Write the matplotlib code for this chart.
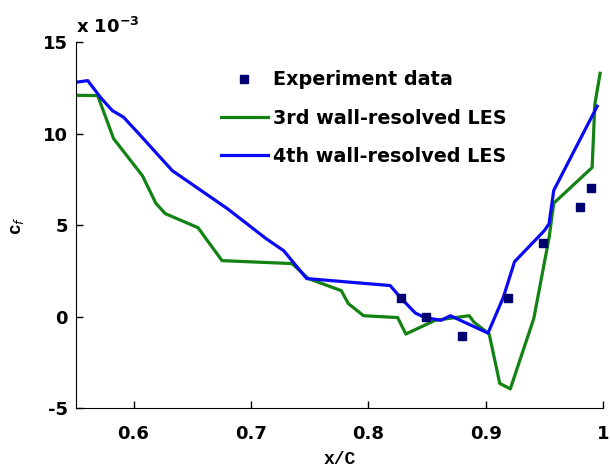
import matplotlib
matplotlib.use("Agg")
import matplotlib.pyplot as plt

# values in units of 1e-3
exp_x = [0.828, 0.849, 0.880, 0.919, 0.949, 0.980, 0.990]
exp_y = [1.0, 0.0, -1.04, 1.0, 4.0, 6.0, 7.05]

les3_x = [0.550, 0.5695, 0.583, 0.6076, 0.619, 0.627, 0.655, 0.663, 0.6754, 0.735,
          0.749, 0.777, 0.783, 0.796, 0.825, 0.832, 0.857, 0.886, 0.890, 0.903,
          0.912, 0.921, 0.941, 0.954, 0.958, 0.9907, 0.993, 0.9975]
les3_y = [12.1, 12.08, 9.73, 7.7, 6.2, 5.63, 4.86, 4.15, 3.06, 2.9,
          2.08, 1.42, 0.71, 0.05, -0.05, -0.95, -0.2, 0.05, -0.3, -0.95,
          -3.65, -3.95, -0.1, 4.3, 6.2, 8.15, 11.6, 13.3]

les4_x = [0.550, 0.561, 0.572, 0.582, 0.5915, 0.6076, 0.633, 0.680, 0.713, 0.728,
          0.7475, 0.8186, 0.828, 0.840, 0.848, 0.862, 0.870, 0.902, 0.915, 0.9246,
          0.950, 0.954, 0.958, 0.995]
les4_y = [12.8, 12.9, 11.97, 11.26, 10.9, 9.78, 7.98, 5.9, 4.26, 3.6,
          2.08, 1.7, 1.0, 0.2, -0.05, -0.2, 0.05, -0.9, 1.05, 3.0,
          4.7, 5.08, 6.9, 11.5]

xticks = [0.6, 0.7, 0.8, 0.9, 1.0]
xticklabels = ['0.6', '0.7', '0.8', '0.9', '1']
yticks = [-5, 0, 5, 10, 15]
yticklabels = ['-5', '0', '5', '10', '15']

fig = plt.figure(figsize=(6.1, 4.74), dpi=100)
ax = fig.add_axes([0.1246, 0.139, 0.864, 0.772])

green = '#128212'
blue = '#0a0af5'
ax.plot(exp_x, exp_y, 's', color='#000070', markersize=5.5, label='Experiment data', zorder=5)
ax.plot(les3_x, les3_y, '-', color=green, lw=2.3, label='3rd wall-resolved LES')
ax.plot(les4_x, les4_y, '-', color=blue, lw=2.3, label='4th wall-resolved LES')

ax.set_xlim(0.551, 1.0)
ax.set_ylim(-5, 15)
ax.set_xticks(xticks)
ax.set_xticklabels(xticklabels)
ax.set_yticks(yticks)
ax.set_yticklabels(yticklabels)
ax.tick_params(direction='in', length=5, labelsize=13, width=1)
for lab in ax.get_xticklabels() + ax.get_yticklabels():
    lab.set_fontweight('bold')
ax.tick_params(axis='x', pad=12)
ax.tick_params(axis='y', pad=6)
ax.spines['top'].set_visible(False)
ax.spines['right'].set_visible(False)

ax.text(0.0, 1.015, r'x 10$^{\mathbf{-3}}$', transform=ax.transAxes,
        fontsize=13, fontweight='bold', ha='left', va='bottom')

ax.set_xlabel('x/C', family='Liberation Mono', fontsize=13, fontweight='bold', labelpad=6)
ax.set_ylabel(r'c$_f$', family='Liberation Mono', fontsize=13, fontweight='bold', labelpad=12)

leg = ax.legend(loc='upper left', bbox_to_anchor=(0.26, 0.944), frameon=False,
                prop={'weight': 'bold', 'size': 13.8}, handlelength=2.45,
                handletextpad=0.3, labelspacing=1.0, borderaxespad=0)

fig.savefig('out.png', dpi=100)
